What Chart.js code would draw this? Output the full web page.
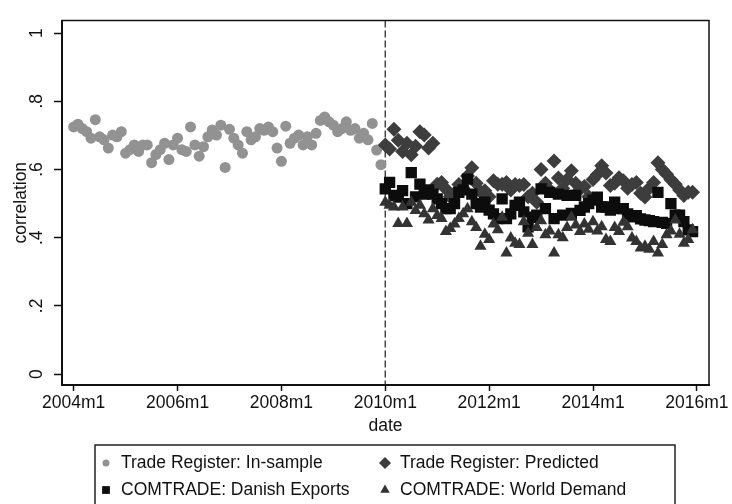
<!DOCTYPE html>
<html>
<head>
<meta charset="utf-8">
<title>correlation by date</title>
<script src="https://cdn.jsdelivr.net/npm/chart.js@4.4.1/dist/chart.umd.min.js"></script>
<style>
  html, body { margin: 0; padding: 0; background: #fff; }
  #wrap { width: 732px; height: 504px; }
</style>
</head>
<body>
<div id="wrap"><canvas id="chart" width="732" height="504"></canvas></div>
<script>
// x is months counted from 2004m1 (= 0)
var tickMonths = [0, 24, 48, 72, 96, 120, 144];
var tickLabels = ['2004m1', '2006m1', '2008m1', '2010m1', '2012m1', '2014m1', '2016m1'];
var yTicks = [0, 0.2, 0.4, 0.6, 0.8, 1];
var yTickLabels = ['0', '.2', '.4', '.6', '.8', '1'];
var breakMonth = 72;   // 2010m1, dashed line

var seriesNames = ['Trade Register: In-sample', 'Trade Register: Predicted',
                   'COMTRADE: Danish Exports', 'COMTRADE: World Demand'];

// 2004m1 - 2009m12
var inSampleStart = 0;
var inSample = [
    .725, .733, .720, .711, .692, .746, .696, .687, .663, .701, .696, .711,
    .648, .658, .672, .653, .672, .672, .620, .644, .658, .677, .629, .672,
    .692, .658, .653, .725, .672, .639, .667, .696, .716, .701, .730, .606,
    .718, .692, .672, .648, .711, .687, .696, .720, .715, .725, .711, .663,
    .624, .727, .677, .692, .701, .672, .696, .672, .706, .744, .754, .740,
    .730, .711, .720, .740, .715, .720, .692, .706, .687, .735, .657, .614
];

// 2010m1 - 2015m12
var outStart = 72;
var predicted = [
    .672, .660, .718, .686, .653, .677, .643, .668, .711, .701, .663, .677,
    .557, .562, .543, .520, .530, .556, .545, .581, .605, .560, .535, .538,
    .520, .567, .557, .557, .562, .540, .556, .553, .556, .520, .530, .504,
    .600, .560, .540, .625, .575, .545, .571, .596, .560, .542, .550, .520,
    .571, .585, .611, .590, .553, .560, .576, .567, .545, .556, .562, .530,
    .519, .545, .562, .620, .600, .586, .570, .557, .540, .524, .533, .533
];
var danishExports = [
    .543, .562, .524, .519, .538, .500, .591, .520, .557, .528, .540, .528,
    .514, .500, .485, .485, .500, .533, .540, .572, .528, .500, .490, .504,
    .481, .470, .456, .514, .456, .470, .495, .504, .476, .432, .460, .466,
    .543, .485, .533, .456, .528, .466, .524, .471, .524, .480, .490, .500,
    .510, .519, .490, .490, .481, .504, .485, .485, .470, .461, .465, .455,
    .452, .450, .447, .533, .445, .442, .500, .466, .466, .447, .423, .418
];
var worldDemand = [
    .504, .495, .490, .442, .490, .442, .504, .480, .495, .470, .452, .485,
    .465, .456, .418, .427, .440, .456, .470, .485, .447, .430, .375, .410,
    .395, .440, .423, .460, .355, .399, .384, .380, .447, .413, .380, .430,
    .450, .409, .420, .355, .409, .400, .430, .460, .437, .418, .440, .425,
    .447, .420, .432, .395, .389, .430, .418, .445, .432, .399, .389, .370,
    .375, .366, .389, .355, .380, .409, .420, .452, .410, .384, .395, .423
];

var FONT = 'Liberation Sans, Arial, Helvetica, sans-serif';
var INK = '#111';

function monthly(start, values) {
    return values.map(function (v, i) { return {x: start + i, y: v}; });
}

var styles = [
    {pointStyle: 'circle',   radius: 5.5, color: '#929292', key: 3.5},
    {pointStyle: 'rectRot',  radius: 7.5, color: '#3d3d3d', key: 6},
    {pointStyle: 'rect',     radius: 8,   color: '#0c0c0c', key: 5.5},
    {pointStyle: 'triangle', radius: 7,   color: '#333333', key: 5.5}
];
var allData = [
    monthly(inSampleStart, inSample),
    monthly(outStart, predicted),
    monthly(outStart, danishExports),
    monthly(outStart, worldDemand)
];

var datasets = allData.map(function (d, i) {
    return {
        label: seriesNames[i],
        data: d,
        showLine: false,
        pointStyle: styles[i].pointStyle,
        pointRadius: styles[i].radius,
        pointBackgroundColor: styles[i].color,
        pointBorderColor: styles[i].color,
        pointBorderWidth: 0,
        order: 4 - i
    };
});

// plot region box + dashed line at 2010m1
var framePlugin = {
    id: 'frame',
    beforeDatasetsDraw: function (chart) {
        var ctx = chart.ctx, a = chart.chartArea;
        var x = chart.scales.x.getPixelForValue(breakMonth);
        ctx.save();
        ctx.strokeStyle = '#444';
        ctx.lineWidth = 1.5;
        ctx.setLineDash([7, 3]);
        ctx.beginPath();
        ctx.moveTo(x, a.top);
        ctx.lineTo(x, a.bottom);
        ctx.stroke();
        ctx.restore();
    },
    afterDraw: function (chart) {
        var ctx = chart.ctx, a = chart.chartArea;
        ctx.save();
        ctx.strokeStyle = INK;
        ctx.lineWidth = 1.5;
        ctx.strokeRect(a.left, a.top, a.right - a.left, a.bottom - a.top);
        ctx.restore();
    }
};

// boxed two-column legend below the axis title
var legendPlugin = {
    id: 'boxLegend',
    afterDraw: function (chart) {
        var ctx = chart.ctx;
        var box = {left: 95, top: 445, right: 675, bottom: 530};
        var cols = [106, 385];
        var rows = [463, 490];
        ctx.save();
        ctx.strokeStyle = '#222';
        ctx.lineWidth = 1.5;
        ctx.strokeRect(box.left, box.top, box.right - box.left, box.bottom - box.top);
        ctx.font = '17.5px ' + FONT;
        ctx.textBaseline = 'middle';
        ctx.textAlign = 'left';
        for (var i = 0; i < seriesNames.length; i++) {
            var cx = cols[i % 2], cy = rows[Math.floor(i / 2)];
            var st = styles[i];
            ctx.fillStyle = st.color;
            ctx.strokeStyle = st.color;
            ctx.lineWidth = 0;
            Chart.helpers.drawPoint(ctx, {
                pointStyle: st.pointStyle, radius: st.key, rotation: 0, borderWidth: 0
            }, cx, cy);
            ctx.fillStyle = INK;
            ctx.fillText(seriesNames[i], cx + 15, cy);
        }
        ctx.restore();
    }
};

new Chart(document.getElementById('chart'), {
    type: 'scatter',
    data: {datasets: datasets},
    plugins: [framePlugin, legendPlugin],
    options: {
        responsive: false,
        devicePixelRatio: 1,
        animation: false,
        events: [],
        layout: {padding: {left: 0, top: 15, right: 23, bottom: 67}},
        plugins: {legend: {display: false}, tooltip: {enabled: false}},
        scales: {
            x: {
                type: 'linear',
                min: -2.7,
                max: 146.8,
                afterBuildTicks: function (axis) {
                    axis.ticks = tickMonths.map(function (v) { return {value: v}; });
                },
                afterFit: function (scale) { scale.height = 52; },
                ticks: {
                    autoSkip: false,
                    maxRotation: 0,
                    padding: 2,
                    color: INK,
                    font: {family: FONT, size: 17.5},
                    callback: function (value) { return tickLabels[tickMonths.indexOf(value)]; }
                },
                grid: {drawOnChartArea: false, drawTicks: true, tickLength: 6, tickWidth: 1.5, tickColor: INK},
                border: {display: true, color: INK, width: 2},
                title: {display: true, text: 'date', color: INK, font: {family: FONT, size: 17.5},
                        padding: {top: 0, bottom: 0}}
            },
            y: {
                min: -0.032,
                max: 1.037,
                afterBuildTicks: function (axis) {
                    axis.ticks = yTicks.map(function (v) { return {value: v}; });
                },
                afterFit: function (scale) { scale.width = 62; },
                ticks: {
                    autoSkip: false,
                    minRotation: 90,
                    maxRotation: 90,
                    crossAlign: 'center',
                    padding: 10,
                    color: INK,
                    font: {family: FONT, size: 17.5},
                    callback: function (value) { return yTickLabels[yTicks.indexOf(value)]; }
                },
                grid: {drawOnChartArea: false, drawTicks: true, tickLength: 8, tickWidth: 1.5, tickColor: INK},
                border: {display: true, color: INK, width: 2},
                title: {display: true, text: 'correlation', color: INK, font: {family: FONT, size: 17.5},
                        padding: {top: 11, bottom: 0}}
            }
        }
    }
});
</script>
</body>
</html>
